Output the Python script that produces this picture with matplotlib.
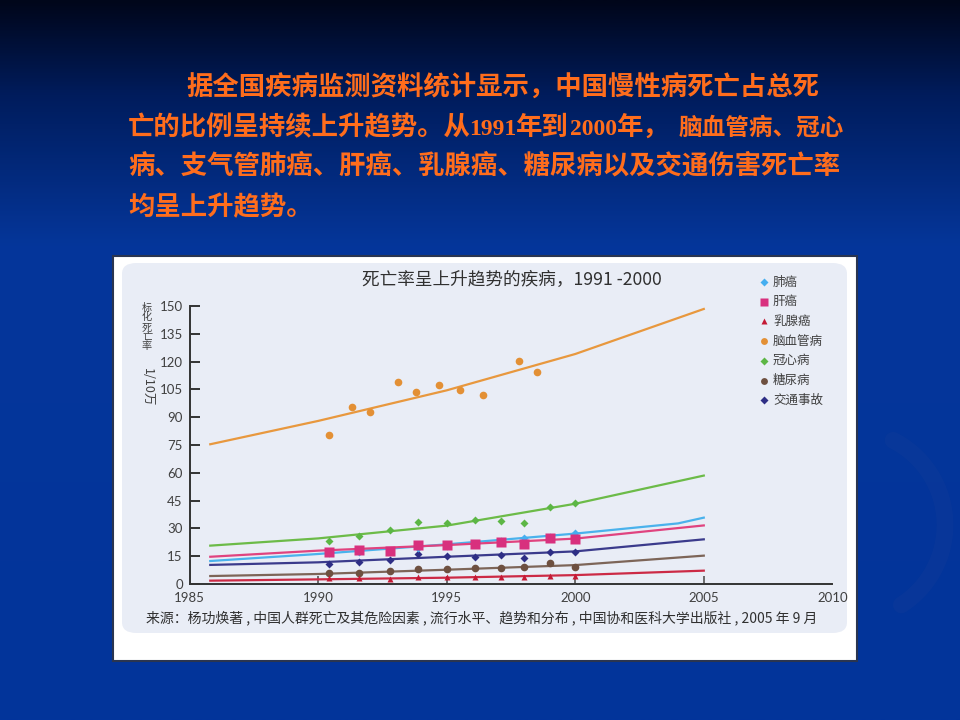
import numpy as np
import matplotlib
matplotlib.use('Agg')
import matplotlib.pyplot as plt
from matplotlib.patches import Rectangle, FancyBboxPatch
from matplotlib.colors import LinearSegmentedColormap

W, H = 960, 720
CJK = ['Noto Sans CJK SC', 'DejaVu Sans']
NUM = ['Lato', 'Noto Sans CJK SC']
SERIF = ['Liberation Serif', 'Noto Sans CJK SC']

# ---- data ----
common_years = [1990.4, 1991.6, 1992.8, 1993.9, 1995.0, 1996.1, 1997.1, 1998.0, 1999.0, 2000.0]
stroke_years = [1990.4, 1991.3, 1992.0, 1993.1, 1993.8, 1994.7, 1995.5, 1996.4, 1997.8, 1998.5]

lung_pts = [16.5, 17.2, 18.0, 19.5, 20.5, 21.5, 23.0, 25.0, 25.5, 27.3]
liver_pts = [17.1, 18.3, 17.8, 21.0, 21.0, 21.8, 22.5, 21.8, 25.0, 24.3]
breast_pts = [3.1, 3.1, 2.7, 3.6, 3.6, 3.6, 4.0, 4.0, 4.5, 4.5]
stroke_pts = [80.4, 95.7, 93.0, 108.8, 103.8, 107.4, 104.9, 102.0, 120.1, 114.6]
chd_pts = [23.2, 25.9, 29.1, 33.6, 32.7, 34.5, 34.0, 33.1, 41.7, 43.5]
diab_pts = [5.8, 6.1, 7.0, 7.9, 7.9, 8.5, 8.5, 9.0, 11.2, 9.0]
traffic_pts = [10.6, 12.0, 13.0, 16.0, 15.3, 14.7, 15.6, 14.2, 17.4, 17.4]

trend_years = [1985.8, 1990, 1995, 2000, 2005]
lung_trend_years = [1985.8, 1990, 1995, 2000, 2004, 2005]
lung_trend = [12.4, 16.2, 21.4, 27.2, 32.7, 35.8]
liver_trend = [14.7, 18.0, 21.0, 24.5, 31.6]
breast_trend = [1.8, 2.5, 3.4, 4.8, 7.2]
stroke_trend = [75.4, 88.0, 104.5, 124.1, 148.4]
chd_trend = [20.7, 24.6, 31.5, 43.3, 58.5]
diab_trend = [4.3, 5.4, 7.7, 10.2, 15.3]
traffic_trend = [10.3, 11.7, 14.7, 17.6, 24.1]

legend_names = ['肺癌', '肝癌', '乳腺癌', '脑血管病', '冠心病', '糖尿病', '交通事故']
x_ticks = [1985, 1990, 1995, 2000, 2005, 2010]
y_ticks = list(range(0, 151, 15))

body_lines = [
    '据全国疾病监测资料统计显示，中国慢性病死亡占总死',
    '病、支气管肺癌、肝癌、乳腺癌、糖尿病以及交通伤害死亡率',
    '均呈上升趋势。',
]
line2_parts = ['亡的比例呈持续上升趋势。从', '1991', '年到', '2000', '年，', '脑血管病、冠心']
chart_title = '死亡率呈上升趋势的疾病，1991 -2000'
source_text = '来源：杨功焕著 , 中国人群死亡及其危险因素 , 流行水平、趋势和分布 , 中国协和医科大学出版社 , 2005 年 9 月'


def fx(px):
    return px / W


def fy(py):
    return 1 - py / H


fig = plt.figure(figsize=(9.6, 7.2), dpi=100)

# background gradient
bg = fig.add_axes([0, 0, 1, 1], zorder=-10)
cmap = LinearSegmentedColormap.from_list('slide', [
    (0.0, '#00061a'), (0.13, '#001c5c'), (0.34, '#05369a'), (1.0, '#02349b')])
grad = np.linspace(0, 1, 256).reshape(-1, 1)
bg.imshow(grad, aspect='auto', cmap=cmap, extent=[0, 1, 1, 0])
bg.set_xlim(0, 1)
bg.set_ylim(1, 0)
bg.axis('off')

# faint swoosh on the right
t = np.linspace(-1.1, 1.0, 100)
bg.plot(fx(850 + 95 * np.cos(t)), (525 + 95 * np.sin(t)) / H,
        color='#1a3f98', lw=12, alpha=0.25, solid_capstyle='round')

# slide text (baselines)
orange = '#ff6d1c'
fig.text(fx(186), fy(96), body_lines[0], family=CJK, fontsize=19, weight='bold',
         color=orange, va='baseline', ha='left')
part_x = [128, 469, 516, 570, 617, 679]
part_size = [19, 17, 19, 17, 19, 17]
for txt, px, sz in zip(line2_parts, part_x, part_size):
    fam = SERIF if txt.isdigit() else CJK
    fig.text(fx(px), fy(135), txt, family=fam, fontsize=sz, weight='bold',
             color=orange, va='baseline', ha='left')
fig.text(fx(128), fy(174), body_lines[1], family=CJK, fontsize=19, weight='bold',
         color=orange, va='baseline', ha='left')
fig.text(fx(128), fy(215), body_lines[2], family=CJK, fontsize=19, weight='bold',
         color=orange, va='baseline', ha='left')

# picture frame
fig.patches.append(Rectangle((fx(113), fy(661)), fx(857) - fx(113), fy(256) - fy(661),
                             transform=fig.transFigure, facecolor='white',
                             edgecolor='#2a3550', lw=1.5, zorder=0))
fig.patches.append(FancyBboxPatch((fx(122), fy(633)), fx(847) - fx(122), fy(263) - fy(633),
                                  boxstyle='round,pad=0,rounding_size=0.015',
                                  transform=fig.transFigure, facecolor='#e9edf6',
                                  edgecolor='none', zorder=1))

# chart axes
ax = fig.add_axes([fx(189.7), fy(584), fx(832.3) - fx(189.7), fy(306) - fy(584)], zorder=5)
ax.patch.set_alpha(0)
ax.set_xlim(1985, 2010)
ax.set_ylim(0, 150)
for s in ['top', 'right']:
    ax.spines[s].set_visible(False)
for s in ['left', 'bottom']:
    ax.spines[s].set_color('#333333')
    ax.spines[s].set_linewidth(1.4)
ax.spines['left'].set_bounds(0, 150)

ax.set_yticks(y_ticks)
ax.set_xticks(x_ticks)
ax.tick_params(axis='y', direction='in', length=7, width=1.4, color='#333333',
               labelsize=9.5, labelcolor='#404040', pad=5)
ax.tick_params(axis='x', direction='in', length=6, width=1.2, color='#555555',
               labelsize=9.5, labelcolor='#404040', pad=6)
for lab in ax.get_xticklabels() + ax.get_yticklabels():
    lab.set_family(NUM)
xt = ax.xaxis.get_major_ticks()
xt[0].tick1line.set_visible(False)
xt[-1].tick1line.set_visible(False)

series = [
    ('#45aef0', 'D', 4.5, common_years, lung_pts, lung_trend_years, lung_trend),
    ('#d8307e', 's', 6.5, common_years, liver_pts, trend_years, liver_trend),
    ('#c41a35', '^', 4.5, common_years, breast_pts, trend_years, breast_trend),
    ('#e39035', 'o', 5.5, stroke_years, stroke_pts, trend_years, stroke_trend),
    ('#5cb645', 'D', 4.5, common_years, chd_pts, trend_years, chd_trend),
    ('#6e5040', 'o', 5.5, common_years, diab_pts, trend_years, diab_trend),
    ('#2e2e85', 'D', 4.5, common_years, traffic_pts, trend_years, traffic_trend),
]
line_colors = ['#4ab2ec', '#e0437f', '#cc2a45', '#e8983e', '#6cbb48', '#7d6558', '#3b3b8c']
order = [5, 2, 6, 0, 1, 4, 3]
for i in order:
    col, mk, ms, xs, ys, tx, ty = series[i]
    ax.plot(tx, ty, color=line_colors[i], lw=1.6, zorder=3)
    ax.plot(xs, ys, linestyle='none', marker=mk, ms=ms, color=col, mec='none', zorder=4)

# legend
for i, name in enumerate(legend_names):
    col, mk, ms = series[i][:3]
    yy = fy(282 + i * 19.7)
    fig.lines.append(plt.Line2D([fx(764)], [yy], transform=fig.transFigure, marker=mk,
                                ms=ms * 0.9, color=col, mec='none', linestyle='none', zorder=6))
    fig.text(fx(773), yy, name, family=CJK, fontsize=9, color='#404040',
             va='center', ha='left', zorder=6)

# titles and labels
fig.text(fx(512), fy(280), chart_title, family=CJK, fontsize=12.7, color='#303030',
         ha='center', va='center', zorder=6)
fig.text(fx(147), fy(327), '\n'.join('标化死亡率'), family=CJK, fontsize=7.3,
         color='#404040', ha='center', va='center', linespacing=0.95, zorder=6)
fig.text(fx(147), fy(387), '1/10万', family=CJK, fontsize=9, rotation=-90,
         color='#404040', ha='center', va='center', zorder=6)
fig.text(fx(146), fy(618), source_text, family=CJK, fontsize=10, color='#303030',
         ha='left', va='center', zorder=6)

fig.savefig('out.png', dpi=100)
